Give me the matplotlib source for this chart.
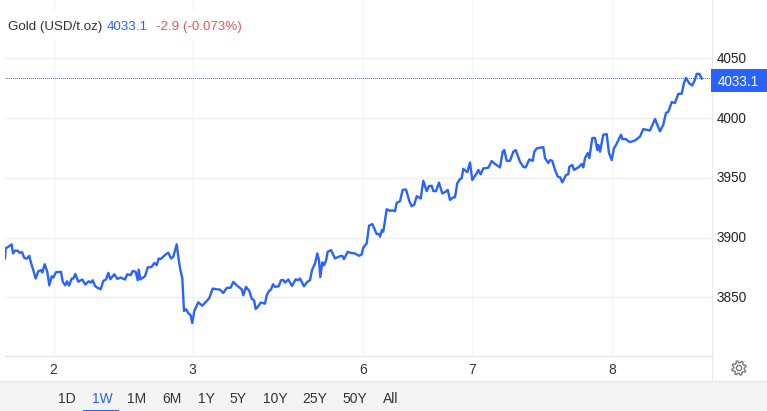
import numpy as np
import matplotlib
matplotlib.use("Agg")
import matplotlib.pyplot as plt
from matplotlib.patches import Rectangle, Polygon, Circle
from matplotlib.transforms import ScaledTranslation

plt.rcParams['font.family'] = ['Liberation Sans', 'DejaVu Sans']

title_name = "Gold (USD/t.oz)"
last_label = "4033.1"
change_label = "-2.9 (-0.073%)"
last_price = 4033.1
y_ticks = [3850, 3900, 3950, 4000, 4050]
x_tick_pos = [53.5, 192.5, 363, 472, 612]
x_tick_labels = ["2", "3", "6", "7", "8"]
ranges = ["1D", "1W", "1M", "6M", "1Y", "5Y", "10Y", "25Y", "50Y", "All"]
range_centers = [67, 102, 137, 172, 206, 238, 275, 315, 355, 391]

# trading-time position along the session axis
pos_a = [5, 5.7, 8.3, 11.7, 13, 15, 17.7, 19.3, 22, 24.3, 26.7, 29.3, 30.7, 33.3, 35.7, 38.3, 41, 42.3, 44.7, 47.3,
         49.3, 51.7, 53.3, 56, 61, 62.7, 65.3, 67, 69, 71.7, 73.3, 75.3, 78.3, 82.3, 85.3, 88.7, 91, 92.7, 95, 97.3,
         100.7, 103.3, 106, 108.3, 110.3, 114.3, 117.3, 120.7, 125, 127.3, 130.7, 132.7, 135.7, 137.7, 138.7, 140.3,
         145, 147.7, 151.7, 154.3, 156.7, 158.7, 160.7, 165.7, 168.3, 171, 173.3, 176.7, 179, 180.3, 182.3, 184, 186,
         188.3, 190.7, 192.3, 194.3]
price_a = [3882.5, 3891, 3892.3, 3894.3, 3886.7, 3889, 3889, 3887.3, 3887.8, 3883, 3882.3, 3884.7, 3879.7, 3872.7,
           3865.7, 3871.8, 3872.7, 3870.7, 3877.7, 3871.3, 3860, 3867.6, 3866.5, 3871, 3871.3, 3863, 3860, 3863.4,
           3859.8, 3865.7, 3865.7, 3869.6, 3863, 3864.9, 3860.7, 3863.4, 3862.3, 3864.3, 3859.5, 3858.1, 3856.7,
           3863.7, 3864.9, 3870.4, 3865.1, 3869.3, 3865.4, 3866.5, 3864.9, 3869.3, 3868.5, 3872.1, 3871.3, 3864.3,
           3873.2, 3864.9, 3867.6, 3875, 3875.5, 3878.8, 3876.9, 3882.5, 3882, 3885.9, 3887.3, 3882.5, 3883.9, 3894.3,
           3879.7, 3873.2, 3865.7, 3838.5, 3840, 3836.8, 3834.9, 3828.4, 3838.5]
pos_b = [198.3, 202.3, 206.7, 209.3, 212.7, 216.7, 220, 223.3, 226.7, 230.7, 233.3, 236.7, 241.7, 243.3, 246, 249.3,
         251.7, 254, 255.7, 258.3, 260.7, 265, 266.7, 269, 271, 273, 275, 278.7, 281, 283.3, 285, 288.3, 292, 295.7,
         298, 300, 304, 307.3, 310, 312, 315, 317.3, 319, 320.3, 322.3, 324, 326, 327.7, 331, 335, 340, 342.3, 344,
         347.7, 350, 355, 359, 361.7]
price_b = [3845.8, 3843, 3846.9, 3849.4, 3857.3, 3856.7, 3856.4, 3853.6, 3857.8, 3858.1, 3862.9, 3860, 3856.7, 3851.7,
           3858.7, 3855.3, 3848.9, 3847.5, 3840.2, 3842.5, 3845.6, 3844.7, 3851.7, 3855.3, 3856.5, 3860.9, 3858.7,
           3859.2, 3864.3, 3864.5, 3862.3, 3864.9, 3859.5, 3865.1, 3864.3, 3865.7, 3859.2, 3862.9, 3864.3, 3872.7,
           3878.3, 3886.7, 3881, 3867, 3879.2, 3876.9, 3880.5, 3888.1, 3889.5, 3882.5, 3884.4, 3884.7, 3882, 3888.1,
           3887.3, 3886.7, 3884.7, 3885.9]
pos_c = [363.3, 366.7, 369, 372.3, 376.7, 379.3, 380, 382, 383.3, 386.7, 390, 392.3, 395, 396.7, 400, 402.7, 406,
         409.3, 411.7, 414.3, 416.7, 420.7, 423.3, 426.7, 429, 431.7, 433.3, 436, 439, 442.3, 445.7, 447.7, 450, 453.3,
         455, 457.3, 460, 461.7, 463.3, 467.3, 470, 472.3, 476.7, 478.3, 480.7, 483.3, 488.3, 491.7, 495, 500, 502.7,
         504.3, 506.7, 510, 513.3, 515.7, 520, 523.3, 525.7, 529.3, 532.7, 534.3, 536.7, 543.3]
price_c = [3891.7, 3895, 3909.9, 3911.3, 3902.9, 3903, 3900.7, 3906.3, 3904.9, 3923.7, 3922.3, 3922.8, 3922, 3929,
           3930.4, 3939.9, 3940.2, 3930.6, 3926.2, 3927.6, 3934.6, 3932.7, 3947.5, 3938.8, 3943, 3943.3, 3939, 3938.8,
           3946, 3936.9, 3938.4, 3939.9, 3931.5, 3933.7, 3933.7, 3945.5, 3948.9, 3949.7, 3957.5, 3954.7, 3962.8,
           3948.2, 3953.8, 3956.6, 3952.9, 3957.9, 3958.4, 3964, 3961.5, 3958.7, 3971.8, 3973.2, 3964.2, 3964.2,
           3971.8, 3973.2, 3963.4, 3959.2, 3958.7, 3965.4, 3964.2, 3971.8, 3974.6, 3975.7]
pos_d = [545, 548.3, 550, 552.3, 555, 557.7, 560, 562.3, 566, 568.3, 569.3, 572.3, 574, 578.3, 581.7, 583.3, 585,
         587.7, 589.3, 592.3, 595, 597.3, 598.3, 600, 603.3, 606.7, 609, 611.7, 614, 616, 619, 621, 622.3, 626, 627.3,
         630, 635, 640, 643.3, 650, 655, 657.3, 660, 663.3, 666, 668.3, 671.7, 675, 678.3, 681.7, 684, 686, 689.3,
         692.3, 695, 696.7, 699.3, 701.7]
price_d = [3966.5, 3962.3, 3964.8, 3964.2, 3956.6, 3951, 3950.5, 3946.2, 3952.3, 3953, 3959.2, 3960.7, 3956.6, 3958.7,
           3961.5, 3958.7, 3966.5, 3970.7, 3966.5, 3983.3, 3983.3, 3973.2, 3977.4, 3971.8, 3986, 3986.6, 3970.7,
           3964.8, 3974.9, 3977.4, 3982.7, 3986, 3982.4, 3982.4, 3981.2, 3979.9, 3981.2, 3984.5, 3990.7, 3989.6,
           3999.2, 3994.5, 3988.9, 3994.5, 4004.3, 4005.2, 4013.3, 4012.7, 4020.3, 4020.3, 4029.4, 4033.6, 4029,
           4027.3, 4032.3, 4037, 4037, 4033.1]

W, H = 767, 411
BLUE = "#2962ff"
fig = plt.figure(figsize=(W / 100, H / 100), dpi=100, facecolor="white")

# full-figure overlay in pixel coordinates for the page furniture
bg = fig.add_axes([0, 0, 1, 1], zorder=0)
bg.set_xlim(0, W); bg.set_ylim(H, 0); bg.axis("off")
bg.add_patch(Rectangle((0, 381), W, 30, fc="#f3f3f3", ec="none"))
bg.plot([0, W], [380.5, 380.5], color="#e6e6e6", lw=0.8)
bg.plot([711.5, 711.5], [0, 381], color="#e8e8e8", lw=0.8)
bg.plot([5, 711], [356, 356], color="#e6e6e6", lw=1.0)

ax = fig.add_axes([5 / W, 1 - 356 / H, 706 / W, 356 / H], zorder=2)
ax.patch.set_alpha(0)
ax.set_xlim(5, 711)
ax.set_ylim(3850 - 58.7 / 1.195, 4050 + 58.3 / 1.195)
for s in ax.spines.values():
    s.set_visible(False)
ax.yaxis.tick_right()
ax.set_yticks(y_ticks)
ax.set_xticks(x_tick_pos, x_tick_labels)
ax.tick_params(axis="both", length=0, labelsize=10, labelcolor="#333333")
ax.tick_params(axis="y", pad=4.2, labelsize=9.75, labelcolor="#222222")
ax.tick_params(axis="x", pad=5)
for lab in ax.get_yticklabels():
    lab.set_transform(lab.get_transform() + ScaledTranslation(0, 1 / 100, fig.dpi_scale_trans))
ax.grid(axis="y", color="#eeeeee", lw=1.0, zorder=1)
ax.grid(axis="x", color="#f1f5fa", lw=1.0, zorder=1)
ax.set_axisbelow(True)

pos = pos_a + pos_b + pos_c + pos_d
price = price_a + price_b + price_c + price_d
ax.plot([5, 711], [last_price, last_price], color=BLUE, lw=0.72, ls=(0.36, (1, 1)),
        dash_capstyle="butt", zorder=2)
ax.plot(pos, price, color=BLUE, lw=1.7, solid_joinstyle="round", zorder=3)

# top overlay for header, price tag and range selector
top = fig.add_axes([0, 0, 1, 1], zorder=3)
top.set_xlim(0, W); top.set_ylim(H, 0); top.axis("off"); top.patch.set_alpha(0)
top.add_patch(Rectangle((5, 12), 240, 26, fc="white", ec="none"))
fs = 9.6
top.text(8, 27, title_name, color="#333333", fontsize=fs, va="center")
top.text(107, 27, last_label, color=BLUE, fontsize=fs, va="center")
top.text(155.5, 27, change_label, color="#ef5350", fontsize=fs, va="center")

top.add_patch(Rectangle((711, 69), 56, 23, fc=BLUE, ec="none"))
top.text(738.5, 81.5, last_label, color="white", fontsize=9.75, ha="center", va="center")

for lab, cx in zip(ranges, range_centers):
    active = lab == "1W"
    top.text(cx, 399, lab, ha="center", va="center", fontsize=10,
             color=BLUE if active else "#333333")
top.add_patch(Rectangle((83, 409.5), 36, 1.5, fc=BLUE, ec="none"))

# settings gear
gx, gy = 739, 368
ang = np.linspace(0, 2 * np.pi, 8 * 4, endpoint=False) + np.pi / 8
rad = np.array([7.2, 7.2, 5.3, 5.3] * 8)
top.add_patch(Polygon(np.c_[gx + rad * np.cos(ang), gy + rad * np.sin(ang)], closed=True,
                      fc="none", ec="#777777", lw=1.0))
top.add_patch(Circle((gx, gy), 2.6, fc="none", ec="#777777", lw=1.0))

fig.savefig("out.png", dpi=100)
